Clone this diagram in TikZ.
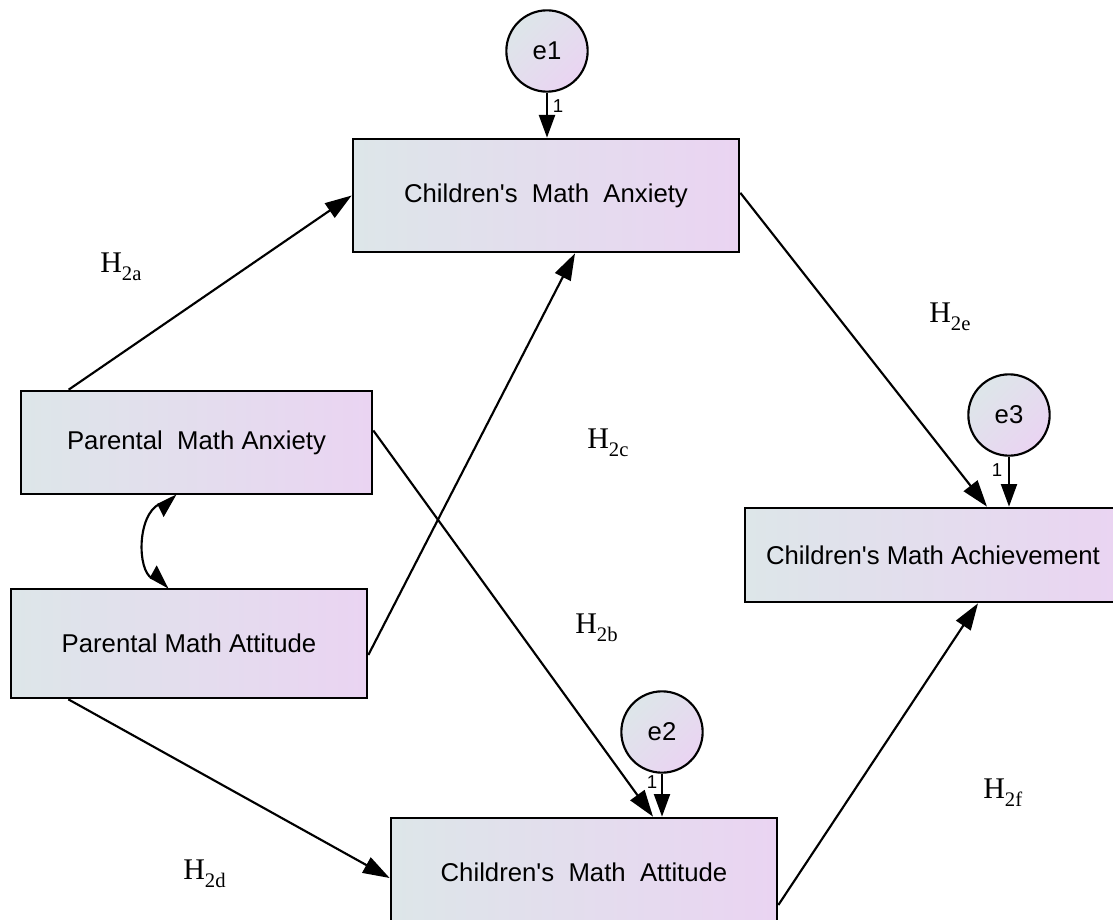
\documentclass[tikz,border=0pt]{standalone}
\usepackage{fontspec}
\setmainfont{Liberation Serif}
\newfontfamily\boxfont{Liberation Sans}
\usepackage{tikz}
\usetikzlibrary{arrows.meta,calc,positioning}
\definecolor{amosleft}{RGB}{221,230,233}
\definecolor{amosright}{RGB}{234,212,242}
\newcommand{\hyp}[1]{H\raisebox{-0.28em}{\fontsize{15.5}{16}\selectfont #1}}

\begin{document}
\begin{tikzpicture}[
    x=0.75pt, y=-0.75pt,
    obsbox/.style={rectangle, draw=black, line width=2pt, left color=amosleft, right color=amosright,
        font=\boxfont\fontsize{19.3}{23}\selectfont, inner sep=0},
    errnode/.style={circle, draw=black, line width=1.6pt, shading=axis, left color=amosleft, right color=amosright,
        shading angle=45, minimum size=61pt, inner sep=0, font=\boxfont\fontsize{19.3}{23}\selectfont},
    path/.style={draw, line width=1.6pt, -{Triangle[length=20pt,width=13pt]}},
    errpath/.style={draw, line width=1.6pt, -{Triangle[length=17pt,width=12pt]}},
    hyplabel/.style={anchor=base west, inner sep=0, font=\fontsize{22.5}{27}\selectfont},
    onelabel/.style={inner sep=0, font=\boxfont\fontsize{14}{15}\selectfont}]
\useasboundingbox (0,0) rectangle (1113,920);

% observed variables
\node[obsbox, minimum width=289.5pt, minimum height=84.75pt] (cmanx) at (546,195.5) {Children's\ \ Math\ \ Anxiety};
\node[obsbox, minimum width=263.25pt, minimum height=77.25pt] (pmanx) at (196.5,442.5) {Parental\ \ Math Anxiety};
\node[obsbox, minimum width=267pt, minimum height=81.75pt] (pmatt) at (189,643.5) {Parental Math Attitude};
\node[obsbox, minimum width=282pt, minimum height=70.5pt] (cmach) at (933,555) {Children's Math Achievement};
\node[obsbox, minimum width=289.5pt, minimum height=81pt] (cmatt) at (584,872) {Children's\ \ Math\ \ Attitude};

% error terms
\node[errnode] (e1) at (547,51) {e1};
\node[errnode] (e3) at (1009,415) {e3};
\node[errnode] (e2) at (662,732) {e2};

\draw[errpath] (e1.south) -- (e1.south |- cmanx.north);
\draw[errpath] (e3.south) -- (e3.south |- cmach.north);
\draw[errpath] (e2.south) -- (e2.south |- cmatt.north);
\node[onelabel] (one1) at (558,106) {1};
\node[onelabel] (one3) at (997,470) {1};
\node[onelabel] (one2) at (652,782) {1};

% structural paths
\draw[path] ([xshift=36.75pt]pmanx.north west) -- (cmanx.west);
\draw[path] ([yshift=9pt]pmanx.east) -- ([xshift=51.75pt]cmatt.north);
\draw[path] ([yshift=-8.6pt]pmatt.east) -- ([xshift=21.75pt]cmanx.south);
\draw[path] ([xshift=44pt]pmatt.south west) -- ([yshift=-4.5pt]cmatt.west);
\draw[path] ([yshift=2pt]cmanx.east) -- ([xshift=40.5pt]cmach.north);
\draw[path] ([yshift=-24.75pt]cmatt.east) -- ([xshift=33.75pt]cmach.south);

% covariance
\draw[line width=1.6pt, {Triangle[length=15pt,width=20pt,harpoon,swap]}-{Triangle[length=15pt,width=20pt,harpoon]}]
    ([xshift=-14.6pt]pmanx.south) .. controls (137,515) and (137,570) .. ([xshift=-15pt]pmatt.north);

% hypothesis labels
\node[hyplabel] (h2a) at (100,272) {\hyp{2a}};
\node[hyplabel] (h2c) at (587,448) {\hyp{2c}};
\node[hyplabel] (h2e) at (929,322) {\hyp{2e}};
\node[hyplabel] (h2b) at (575,633) {\hyp{2b}};
\node[hyplabel] (h2d) at (183,879) {\hyp{2d}};
\node[hyplabel] (h2f) at (983,798) {\hyp{2f}};

\end{tikzpicture}
\end{document}
